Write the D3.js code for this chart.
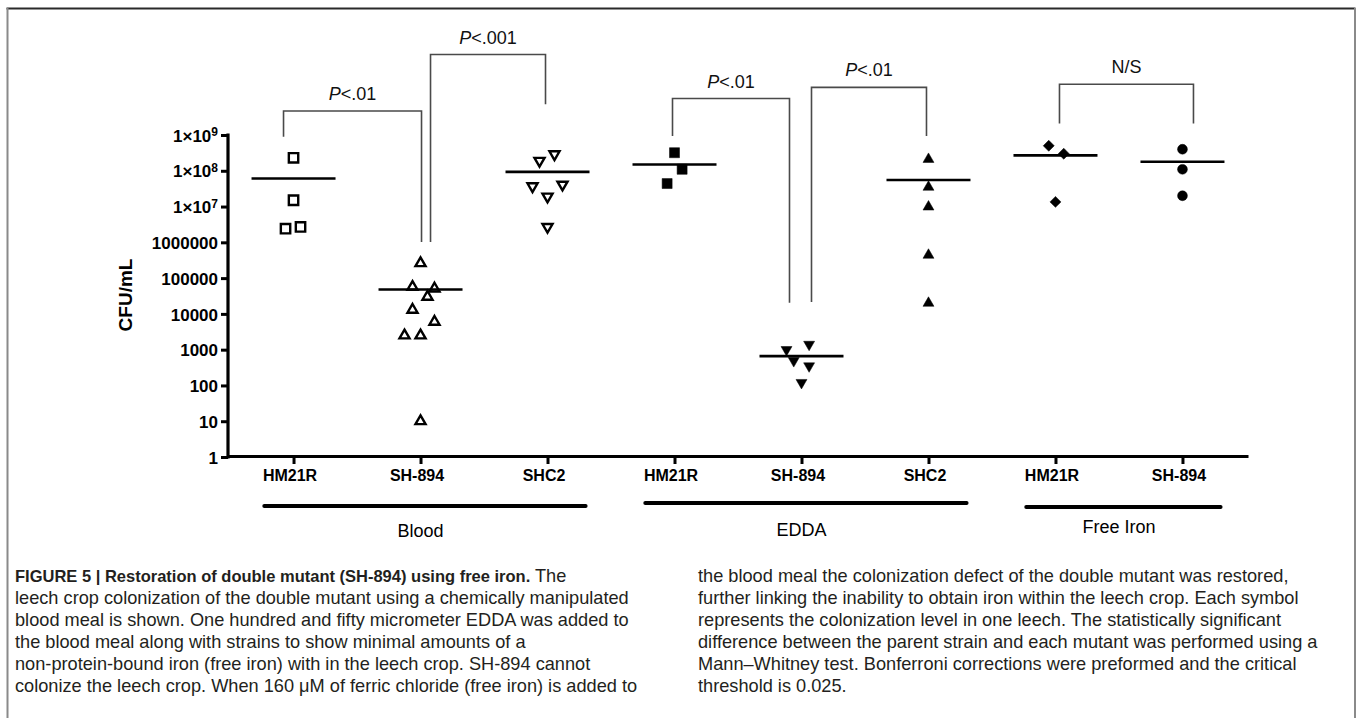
<!DOCTYPE html>
<html>
<head>
<meta charset="utf-8">
<script src="https://cdn.jsdelivr.net/npm/d3@7"></script>
<style>
  body { margin: 0; background: #fff; }
  svg { display: block; }
  .tick text { font-family: "Liberation Sans", Arial, sans-serif; font-weight: bold; fill: #000; }
  .narrow { font-family: "Liberation Sans Narrow", "Arial Narrow", "Liberation Sans", sans-serif; }
</style>
</head>
<body>
<div id="chart"></div>
<script>
// categories along the x axis (condition, strain)
var conditions = ["Blood", "Blood", "Blood", "EDDA", "EDDA", "EDDA", "Free Iron", "Free Iron"];
var strains = ["HM21R", "SH-894", "SHC2", "HM21R", "SH-894", "SHC2", "HM21R", "SH-894"];
var symbols = ["squareOpen", "triUpOpen", "triDownOpen", "square", "triDown", "triUp", "diamond", "circle"];

// CFU/mL per leech, one list per category
var cfuValues = [
  [2.3e8, 1.5e7, 2.4e6, 2.7e6],
  [2.6e5, 5.7e4, 5.1e4, 3.0e4, 1.3e4, 6.0e3, 2.5e3, 2.5e3, 10],
  [2.9e8, 1.9e8, 4.1e7, 3.7e7, 1.9e7, 2.7e6],
  [3.2e8, 1.1e8, 4.4e7],
  [1.4e3, 1.0e3, 490, 350, 120],
  [2.1e8, 3.5e7, 9.8e6, 4.4e5, 2.0e4],
  [5.0e8, 3.0e8, 1.35e7],
  [4.0e8, 1.1e8, 2.0e7]
];
// scatter jitter of each point, as a fraction of the category step
var jitter = [
  [0, 0, -0.063, 0.055],
  [0, -0.063, 0.11, 0.055, -0.063, 0.11, -0.126, 0, 0],
  [0.055, -0.063, 0.118, -0.118, 0, 0],
  [0, 0.06, -0.058],
  [0.06, -0.118, -0.061, 0.06, 0],
  [0, 0, 0, 0, 0],
  [-0.053, 0.065, 0],
  [0, 0, 0]
];
// centre line of each column
var centreValues = [6.1e7, 4.8e4, 9.3e7, 1.5e8, 660, 5.5e7, 2.7e8, 1.78e8];

var yTicks = [1, 10, 100, 1000, 10000, 100000, 1000000, 1e7, 1e8, 1e9];
var yTickLabels = ["1", "10", "100", "1000", "10000", "100000", "1000000", "1×10^7", "1×10^8", "1×10^9"];

// significance brackets: columns, label, heights (CFU/mL units, log scale)
var brackets = [
  {from: 0, to: 1, label: "<.01",  italicP: true, leftEnd: 10 ** 8.95, top: 10 ** 9.67,  rightEnd: 10 ** 6.01},
  {from: 1, to: 2, label: "<.001", italicP: true, leftEnd: 10 ** 6.01, top: 10 ** 11.25, rightEnd: 10 ** 9.86},
  {from: 3, to: 4, label: "<.01",  italicP: true, leftEnd: 10 ** 8.97, top: 10 ** 10.02, rightEnd: 10 ** 4.31},
  {from: 4, to: 5, label: "<.01",  italicP: true, leftEnd: 10 ** 4.33, top: 10 ** 10.33, rightEnd: 10 ** 8.97},
  {from: 6, to: 7, label: "N/S",   italicP: false, leftEnd: 10 ** 9.32, top: 10 ** 10.42, rightEnd: 10 ** 9.32}
];

var groupNames = ["Blood", "EDDA", "Free Iron"];

var captionLeft = [
  "leech crop colonization of the double mutant using a chemically manipulated",
  "blood meal is shown. One hundred and fifty micrometer EDDA was added to",
  "the blood meal along with strains to show minimal amounts of a",
  "non-protein-bound iron (free iron) with in the leech crop. SH-894 cannot",
  "colonize the leech crop. When 160 μM of ferric chloride (free iron) is added to"
];
var captionRight = [
  "the blood meal the colonization defect of the double mutant was restored,",
  "further linking the inability to obtain iron within the leech crop. Each symbol",
  "represents the colonization level in one leech. The statistically significant",
  "difference between the parent strain and each mutant was performed using a",
  "Mann–Whitney test. Bonferroni corrections were preformed and the critical",
  "threshold is 0.025."
];

var width = 1357, height = 718;
var svg = d3.select("#chart").append("svg")
    .attr("width", width)
    .attr("height", height);

svg.append("rect").attr("width", width).attr("height", height).attr("fill", "#fff");

// figure frame
svg.append("line").attr("x1", 6.5).attr("x2", 1355.5).attr("y1", 8.5).attr("y2", 8.5)
    .attr("stroke", "#2a2a2a").attr("stroke-width", 2);
svg.append("line").attr("x1", 7.5).attr("x2", 7.5).attr("y1", 8).attr("y2", height)
    .attr("stroke", "#8a8a8a").attr("stroke-width", 2);
svg.append("line").attr("x1", 1355).attr("x2", 1355).attr("y1", 8).attr("y2", height)
    .attr("stroke", "#8a8a8a").attr("stroke-width", 2);

var ids = d3.range(strains.length);

var x = d3.scalePoint()
    .domain(ids)
    .range([228, 1248])
    .padding(0.516);
var step = x.step();

var y = d3.scaleLog()
    .domain([1, 1e9])
    .range([457, 135]);

// y axis
var gy = svg.append("g")
    .attr("transform", "translate(228,0)")
    .call(d3.axisLeft(y).tickValues(yTicks).tickSize(7).tickSizeOuter(0).tickFormat(""));
gy.select(".domain").attr("stroke-width", 3.2).attr("d", "M0," + (y(1) + 1.5) + "V" + (y(1e9) - 1.5));
gy.selectAll(".tick line").attr("stroke-width", 3).attr("x2", -7);
gy.selectAll(".tick").each(function(d, i) {
  var lab = yTickLabels[i];
  var t = d3.select(this).append("text")
      .attr("x", -10)
      .attr("dy", "0.36em")
      .attr("text-anchor", "end")
      .style("font-size", "17px");
  if (lab.indexOf("^") > 0) {
    var parts = lab.split("^");
    t.append("tspan").text(parts[0]);
    t.append("tspan").attr("dy", "-0.45em").style("font-size", "12px").text(parts[1]);
  } else {
    t.text(lab);
  }
});

svg.append("text")
    .attr("transform", "translate(132,295) rotate(-90)")
    .attr("text-anchor", "middle")
    .style("font-family", "'Liberation Sans', Arial, sans-serif")
    .style("font-weight", "bold")
    .style("font-size", "19px")
    .text("CFU/mL");

// x axis
var gx = svg.append("g")
    .attr("transform", "translate(0,456)")
    .call(d3.axisBottom(x).tickSize(8).tickSizeOuter(0).tickFormat(function(d) { return strains[d]; }));
gx.select(".domain").attr("stroke-width", 3.2);
gx.selectAll(".tick line").attr("stroke-width", 3);
gx.selectAll(".tick text").attr("y", 14).attr("x", -4).style("font-size", "16px");

// group underlines and names
var groupSpans = groupNames.map(function(g) {
  var cols = ids.filter(function(i) { return conditions[i] === g; });
  return {name: g, first: d3.min(cols), last: d3.max(cols)};
});
var groupLineY = [506, 503, 507];
var groupTextY = [537, 536, 533];
svg.selectAll(".groupLine")
    .data(groupSpans)
  .enter().append("line")
    .attr("class", "groupLine")
    .attr("x1", function(d) { return x(d.first) - step * 0.23; })
    .attr("x2", function(d) { return x(d.last) + step * 0.3; })
    .attr("y1", function(d, i) { return groupLineY[i]; })
    .attr("y2", function(d, i) { return groupLineY[i]; })
    .attr("stroke", "#000")
    .attr("stroke-width", 4)
    .attr("stroke-linecap", "round");
svg.selectAll(".groupName")
    .data(groupSpans)
  .enter().append("text")
    .attr("class", "groupName narrow")
    .attr("x", function(d) { return (x(d.first) + x(d.last)) / 2; })
    .attr("y", function(d, i) { return groupTextY[i]; })
    .attr("text-anchor", "middle")
    .style("font-size", "18px")
    .text(function(d) { return d.name; });

// centre lines
svg.selectAll(".centre")
    .data(centreValues)
  .enter().append("line")
    .attr("class", "centre")
    .attr("x1", function(d, i) { return x(i) - 42; })
    .attr("x2", function(d, i) { return x(i) + 42; })
    .attr("y1", function(d) { return y(d); })
    .attr("y2", function(d) { return y(d); })
    .attr("stroke", "#000")
    .attr("stroke-width", 2.6);

// points
var symbolStyle = {
  squareOpen:  {type: d3.symbolSquare,   size: 88, rotate: 0,   fill: "#fff"},
  triUpOpen:   {type: d3.symbolTriangle, size: 44, rotate: 0,   fill: "none"},
  triDownOpen: {type: d3.symbolTriangle, size: 44, rotate: 180, fill: "none"},
  square:      {type: d3.symbolSquare,   size: 100, rotate: 0,  fill: "#000"},
  triDown:     {type: d3.symbolTriangle, size: 52, rotate: 180, fill: "#000"},
  triUp:       {type: d3.symbolTriangle, size: 52, rotate: 0,   fill: "#000"},
  diamond:     {type: d3.symbolSquare,   size: 60, rotate: 45,  fill: "#000"},
  circle:      {type: d3.symbolCircle,   size: 76, rotate: 0,   fill: "#000"}
};

var points = [];
cfuValues.forEach(function(vals, c) {
  vals.forEach(function(v, k) {
    points.push({col: c, value: v, dx: jitter[c][k]});
  });
});

svg.selectAll(".point")
    .data(points)
  .enter().append("path")
    .attr("class", "point")
    .attr("d", function(d) {
      var s = symbolStyle[symbols[d.col]];
      return d3.symbol().type(s.type).size(s.size)();
    })
    .attr("transform", function(d) {
      var s = symbolStyle[symbols[d.col]];
      return "translate(" + (x(d.col) + d.dx * step) + "," + y(d.value) + ") rotate(" + s.rotate + ")";
    })
    .attr("fill", function(d) { return symbolStyle[symbols[d.col]].fill; })
    .attr("stroke", "#000")
    .attr("stroke-width", function(d) { return symbolStyle[symbols[d.col]].fill === "#000" ? 0.5 : 2.4; })
    .attr("stroke-linejoin", "miter");

// significance brackets (hand-drawn ends sit a little off the column centres)
var endNudge = [[-10, 1], [10, -2], [-2, -12], [10, -2], [4, 11]];
var gb = svg.selectAll(".bracket")
    .data(brackets)
  .enter().append("g")
    .attr("class", "bracket");
function bracketX(d, i) {
  return [x(d.from) + endNudge[i][0], x(d.to) + endNudge[i][1]];
}
gb.append("path")
    .attr("d", function(d, i) {
      var bx = bracketX(d, i);
      return "M" + bx[0] + "," + y(d.leftEnd) + "V" + y(d.top) + "H" + bx[1] + "V" + y(d.rightEnd);
    })
    .attr("fill", "none")
    .attr("stroke", "#4a4a4a")
    .attr("stroke-width", 1.6);
var bt = gb.append("text")
    .attr("x", function(d, i) { var bx = bracketX(d, i); return (bx[0] + bx[1]) / 2; })
    .attr("y", function(d) { return y(d.top) - 11; })
    .attr("text-anchor", "middle")
    .style("font-family", "'Liberation Sans', Arial, sans-serif")
    .style("font-size", "18px")
    .style("fill", "#111");
bt.filter(function(d) { return d.italicP; }).append("tspan").style("font-style", "italic").text("P");
bt.append("tspan").text(function(d) { return d.label; });

// caption
var cap = svg.append("g")
    .attr("class", "narrow")
    .style("font-size", "18.2px")
    .style("fill", "#231f20");
var first = cap.append("text").attr("x", 15).attr("y", 582);
first.append("tspan").style("font-weight", "bold").style("font-size", "16.5px")
    .text("FIGURE 5 | Restoration of double mutant (SH-894) using free iron.");
first.append("tspan").text(" The");
cap.selectAll(".capL")
    .data(captionLeft)
  .enter().append("text")
    .attr("class", "capL")
    .attr("x", 15)
    .attr("y", function(d, i) { return 582 + (i + 1) * 22; })
    .text(function(d) { return d; });
cap.selectAll(".capR")
    .data(captionRight)
  .enter().append("text")
    .attr("class", "capR")
    .attr("x", 698)
    .attr("y", function(d, i) { return 582 + i * 22; })
    .text(function(d) { return d; });
</script>
</body>
</html>
